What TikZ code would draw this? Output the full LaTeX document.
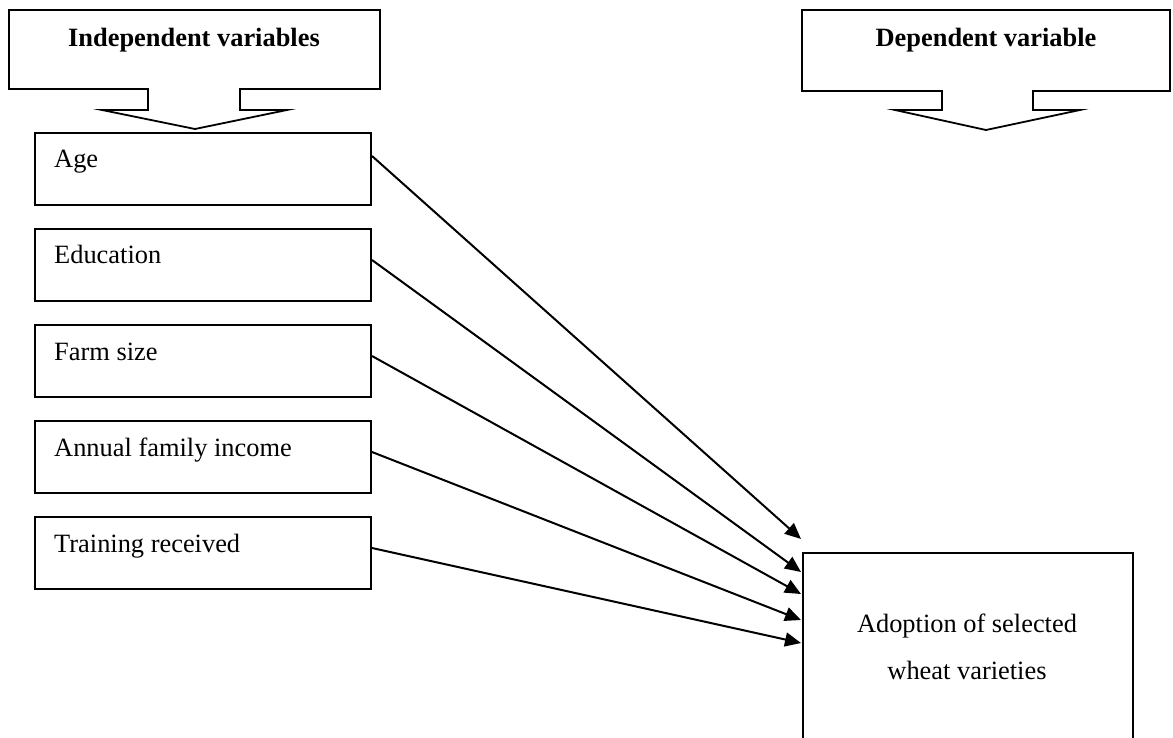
\documentclass[tikz,border=0pt]{standalone}
\usepackage{fontspec}
\setmainfont{Liberation Serif}
\usetikzlibrary{arrows.meta,calc}
\begin{document}
\begin{tikzpicture}[x=1pt,y=-1pt,
  every node/.style={font=\fontsize{26.4}{30}\selectfont},
  varbox/.style={draw,line width=2pt,minimum width=336pt,minimum height=72pt,inner sep=0pt,anchor=north west},
  outcome/.style={draw,line width=2pt,minimum width=330pt,minimum height=260pt,inner sep=0pt,anchor=north west},
  callout/.style={draw,line width=1.8pt,line join=miter},
  lbl/.style={anchor=base west,inner sep=0pt},
  ttl/.style={anchor=base,inner sep=0pt,font=\fontsize{26.4}{30}\selectfont\bfseries},
  link/.style={line width=2pt,-{Triangle[length=16pt,width=14pt]}}
]
\clip (0,0) rectangle (1173,738);
\fill[white] (0,0) rectangle (1173,738);

% callouts
\draw[callout] (9,10) -- (380,10) -- (380,89) -- (240,89) -- (240,110) -- (287,110)
  -- (195,129) -- (102,110) -- (148,110) -- (148,89) -- (9,89) -- cycle;
\node[ttl] (tind) at (194,47) {Independent variables};

\draw[callout] (802,10) -- (1170,10) -- (1170,91) -- (1033,91) -- (1033,110) -- (1080,110)
  -- (986,130) -- (895,110) -- (942,110) -- (942,91) -- (802,91) -- cycle;
\node[ttl] (tdep) at (986,47) {Dependent variable};

% independent variable boxes
\node[varbox] (age) at (34,132) {};
\node[lbl] at ($(age.north west)+(20,36)$) {Age};
\node[varbox] (edu) at (34,228) {};
\node[lbl] at ($(edu.north west)+(20,36)$) {Education};
\node[varbox] (farm) at (34,324) {};
\node[lbl] at ($(farm.north west)+(20,36)$) {Farm size};
\node[varbox] (inc) at (34,420) {};
\node[lbl] at ($(inc.north west)+(20,36)$) {Annual family income};
\node[varbox] (train) at (34,516) {};
\node[lbl] at ($(train.north west)+(20,36)$) {Training received};

% dependent variable box
\node[outcome] (adopt) at (802,552) {};
\node[anchor=base,inner sep=0pt] at (967,632) {Adoption of selected};
\node[anchor=base,inner sep=0pt] at (967,679) {wheat varieties};

% connectors
\draw[link] ($(age.north east)+(0,24)$) -- ($(adopt.north west)+(-1,-13)$);
\draw[link] ($(edu.north east)+(0,32)$) -- ($(adopt.north west)+(-1,20)$);
\draw[link] ($(farm.north east)+(0,32)$) -- ($(adopt.north west)+(-1,42)$);
\draw[link] ($(inc.north east)+(0,32)$) -- ($(adopt.north west)+(-1,68)$);
\draw[link] ($(train.north east)+(0,32)$) -- ($(adopt.north west)+(-1,91)$);
\end{tikzpicture}
\end{document}
